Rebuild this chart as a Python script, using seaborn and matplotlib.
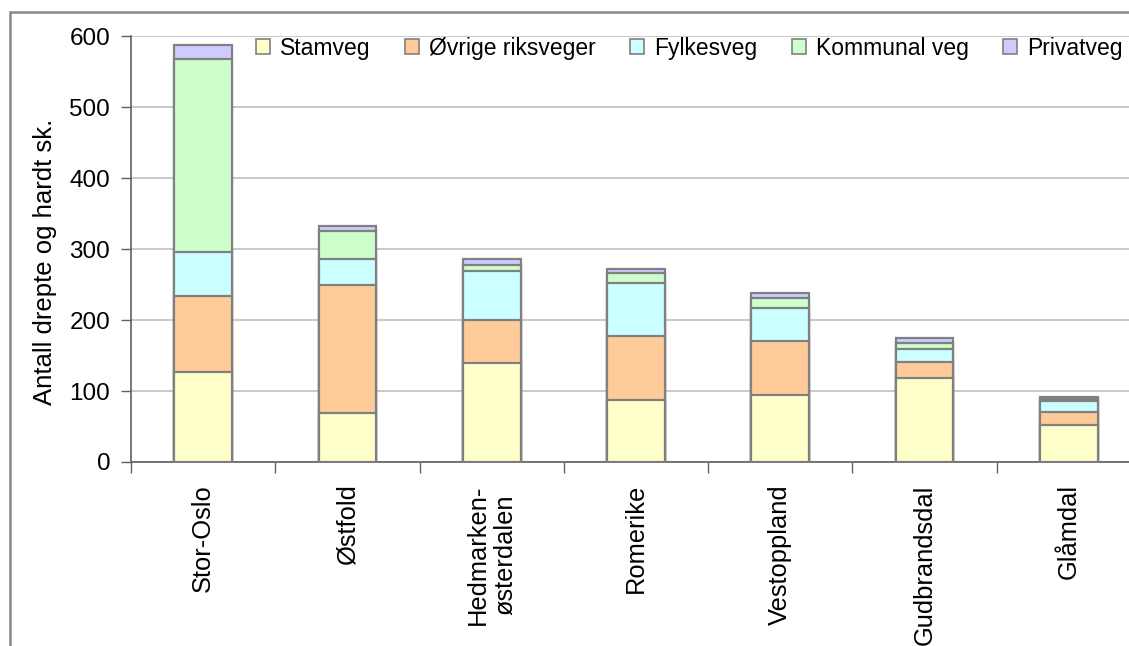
import numpy as np
import pandas as pd
import matplotlib
matplotlib.use("Agg")
import matplotlib.pyplot as plt
from matplotlib.patches import Patch, Rectangle
import seaborn as sns

regions = ["Stor-Oslo", "Østfold", "Hedmarken-\nøsterdalen", "Romerike",
           "Vestoppland", "Gudbrandsdal", "Glåmdal"]
series = ["Stamveg", "Øvrige riksveger", "Fylkesveg", "Kommunal veg", "Privatveg"]

stamveg = [127, 69, 139, 88, 95, 118, 52]
ovrige = [107, 180, 61, 90, 75, 23, 19]
fylkesveg = [62, 37, 69, 74, 47, 18, 15]
kommunal = [272, 40, 8, 14, 14, 8, 3]
privat = [20, 7, 9, 6, 7, 7, 3]

colors = ["#FFFFCC", "#FFCC99", "#CCFFFF", "#CCFFCC", "#CCCCFF"]
edge = "#808080"

sns.set_style("white")
plt.rcParams['font.family'] = ['Liberation Sans', 'DejaVu Sans']
plt.rcParams['text.color'] = 'black'
plt.rcParams['xtick.color'] = 'black'
plt.rcParams['ytick.color'] = 'black'
plt.rcParams['axes.labelcolor'] = 'black'

df = pd.DataFrame({"region": regions, "Stamveg": stamveg,
                   "Øvrige riksveger": ovrige, "Fylkesveg": fylkesveg,
                   "Kommunal veg": kommunal, "Privatveg": privat})
cum = df[series].cumsum(axis=1)

fig = plt.figure(figsize=(11.29, 6.46), dpi=100)
ax = fig.add_axes([131 / 1129, 1 - 462 / 646, 1010 / 1129, 426 / 646])

# draw tallest stack first, lower stacks on top
for name, col in reversed(list(zip(series, colors))):
    sns.barplot(x=df["region"], y=cum[name], color=col, saturation=1,
                edgecolor=edge, linewidth=1.6, width=0.4, errorbar=None,
                ax=ax, zorder=3)

ax.set_xlim(-0.5, 6.5)
ax.set_ylim(0, 600)
ax.set_yticks(range(0, 601, 100))
ax.yaxis.grid(True, color="#C0C0C0", linewidth=1.2, zorder=0)
ax.set_axisbelow(True)

for s in ["top", "right"]:
    ax.spines[s].set_visible(False)
ax.spines["left"].set_color("#606060")
ax.spines["bottom"].set_color("#606060")
ax.spines["left"].set_linewidth(1.2)
ax.spines["bottom"].set_linewidth(1.2)

ax.tick_params(axis="y", direction="out", length=7, width=1, color="#606060",
               pad=8, labelsize=17.5, left=True)
ax.tick_params(axis="x", which="major", length=0, pad=16, labelsize=18.4)
ax.set_xticks(np.arange(-0.5, 6.6, 1), minor=True)
ax.tick_params(axis="x", which="minor", direction="out", length=8, width=1,
               color="#606060", bottom=True)
for lab in ax.get_xticklabels():
    lab.set_rotation(90)
    lab.set_va("top")
    lab.set_ha("center")
    lab.set_multialignment("center")

ax.set_xlabel("")
ax.set_ylabel("Antall drepte og hardt sk.", fontsize=18.5)
ax.yaxis.set_label_coords(-0.073, 0.469)

handles = [Patch(facecolor=c, edgecolor=edge, linewidth=1.2) for c in colors]
ax.legend(handles, series, ncol=5, frameon=False, fontsize=16.5,
          loc="upper left", bbox_to_anchor=(0.115, 1.02),
          handlelength=0.6, handleheight=0.6, handletextpad=0.45,
          columnspacing=1.5, borderaxespad=0)

# outer chart frame, cut off on the right and bottom like the original
fig.add_artist(Rectangle((10 / 1129, -0.2), 1.5, 1.2 - 12 / 646,
                         transform=fig.transFigure, facecolor="none",
                         edgecolor="#888888", linewidth=1.8))

fig.savefig("out.png", dpi=100)
